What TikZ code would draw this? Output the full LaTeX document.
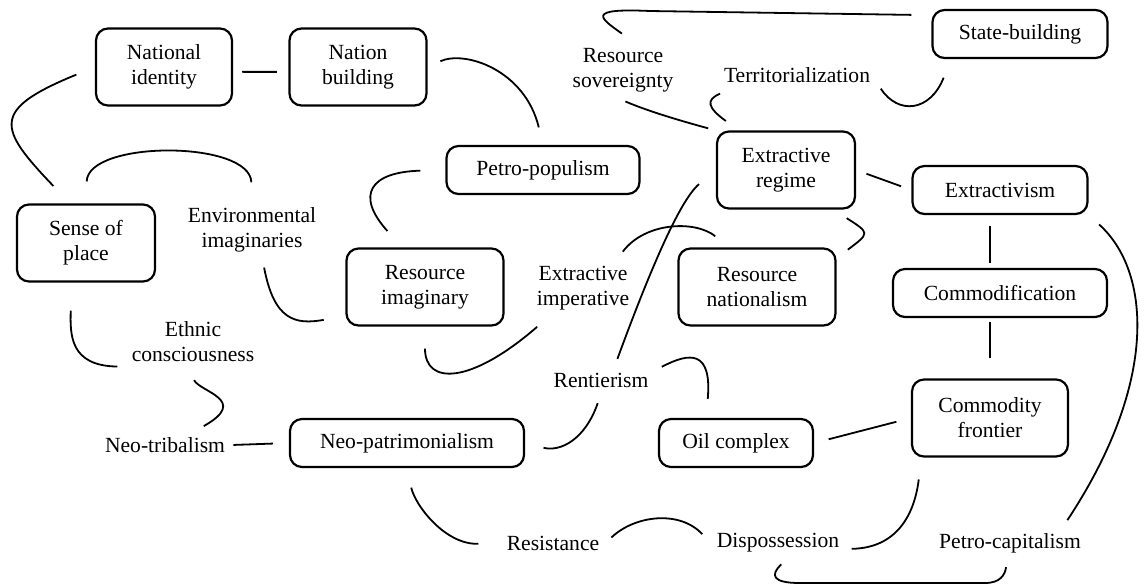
\documentclass[tikz,border=0pt]{standalone}
\usepackage{fontspec}
\setmainfont{Liberation Serif}
\usepackage{tikz}

\begin{document}
\begin{tikzpicture}[
      x=0.5pt, y=-0.5pt,
      mybox/.style={
         rectangle,
         rounded corners=6pt,
         draw=black,
         line width=1.1pt,
         align=center,
         inner sep=0pt,
         minimum height=38.5pt,
         font=\fontsize{10.8}{12.5}\selectfont},
      myflatbox/.style={mybox, minimum height=24pt},
      mylabel/.style={
         align=center,
         inner sep=3pt,
         font=\fontsize{10.8}{12.5}\selectfont},
      myline/.style={line width=0.9pt}
      ]
\useasboundingbox (0,0) rectangle (1144,586);

% boxes
\node[mybox,     minimum width=68pt  ] (natid)      at (164,67)  {National\\identity};
\node[mybox,     minimum width=68.5pt] (natbuild)   at (358,67)  {Nation\\building};
\node[myflatbox, minimum width=87.5pt] (statebuild) at (1020,34) {State-building};
\node[myflatbox, minimum width=96.5pt] (petropop)   at (543,170) {Petro-populism};
\node[mybox,     minimum width=69pt  ] (extreg)     at (786,170) {Extractive\\regime};
\node[myflatbox, minimum width=87.5pt] (extvism)    at (1000,190) {Extractivism};
\node[mybox,     minimum width=69pt  ] (sense)      at (86,243)  {Sense of\\place};
\node[mybox,     minimum width=78.5pt] (resimag)    at (425,287) {Resource\\imaginary};
\node[mybox,     minimum width=78.5pt] (resnat)     at (757,287) {Resource\\nationalism};
\node[myflatbox, minimum width=107pt ] (commod)     at (1000,293) {Commodification};
\node[myflatbox, minimum width=117pt ] (neopat)     at (407,443) {Neo-patrimonialism};
\node[myflatbox, minimum width=77pt  ] (oilcx)      at (736,443) {Oil complex};
\node[mybox,     minimum width=78pt  ] (comfront)   at (990,418) {Commodity\\frontier};

% free labels
\node[mylabel] (ressov)   at (623,70)  {Resource\\sovereignty};
\node[mylabel] (territ)   at (797,75)  {Territorialization};
\node[mylabel] (envimag)  at (252,230) {Environmental\\imaginaries};
\node[mylabel] (extimp)   at (583,288) {Extractive\\imperative};
\node[mylabel] (ethnic)   at (193,342) {Ethnic\\consciousness};
\node[mylabel] (neotrib)  at (165,445) {Neo-tribalism};
\node[mylabel] (rentier)  at (601,380) {Rentierism};
\node[mylabel] (resist)   at (553,543) {Resistance};
\node[mylabel] (dispos)   at (778,543) {Dispossession};
\node[mylabel] (petrocap) at (1010,543) {Petro-capitalism};

% straight links
\foreach \i/\j/\s/\t in {% start/end/gap start/gap end
      natid.-4/natbuild.184/4.5pt/5.75pt,
      neotrib.east/neopat.west/1pt/8pt,
      extreg.east/extvism.west/5.5pt/5.5pt,
      oilcx.east/comfront.west/7.5pt/7.5pt,
      extvism.south -| comfront/commod.north -| comfront/5.5pt/2.5pt,
      commod.south -| comfront/comfront.north/2pt/10pt}
       \draw[myline, shorten <=\s, shorten >=\t] (\i) -- (\j);

% curved links
\draw[myline, shorten <=10pt, shorten >=12pt] (natid.west) .. controls (-10,110) and (-2,128) .. (sense.112);
\draw[myline, shorten <=11pt, shorten >=9.5pt] (sense.north) .. controls (88,140) and (250,140) .. (envimag.north);
\draw[myline, shorten <=7pt, shorten >=9pt] (natbuild.east) .. controls (465,50) and (525,70) .. (petropop.north);
\draw[myline, shorten <=12.5pt, shorten >=11pt] (petropop.west) .. controls (370,172) and (355,195) .. (resimag.120);
\draw[myline, shorten <=4.5pt, shorten >=11pt] (envimag.-70) .. controls (274,320) and (295,325) .. (resimag.200);
\draw[myline, shorten <=14pt, shorten >=4pt] (sense.-110) .. controls (70,335) and (70,366) .. (ethnic.200);
\draw[myline, shorten <=6.5pt, shorten >=5pt] (ethnic.-100) .. controls (200,392) and (250,400) .. (neotrib.25);
\draw[myline, shorten <=11pt, shorten >=8pt] (resimag.south) .. controls (425,385) and (470,385) .. (extimp.220);
\draw[myline, shorten <=5pt, shorten >=9pt] (extimp.40) .. controls (645,222) and (695,220) .. (resnat.125);
\draw[myline, shorten <=4pt, shorten >=11pt] (rentier.45) .. controls (650,270) and (680,200) .. (extreg.west);
\draw[myline, shorten <=4pt, shorten >=4pt] (ressov.-100) .. controls (650,112) and (685,122) .. (extreg.north west);
\draw[myline, shorten <=6pt, shorten >=8pt] (territ.192) .. controls (705,100) and (708,108) .. (extreg.140);
\draw[myline, shorten <=7pt, shorten >=10pt] (ressov.70) .. controls (600,18) and (585,8) .. (650,11) -- (statebuild.168);
\draw[myline, shorten <=4pt, shorten >=10pt] (territ.-5) .. controls (898,115) and (930,112) .. (statebuild.200);
\draw[myline, shorten <=7pt, shorten >=8pt] (resnat.20) .. controls (870,233) and (870,233) .. (extreg.-40);
\draw[myline, shorten <=7pt, shorten >=4pt] (extvism.south east) .. controls (1150,270) and (1160,380) .. (petrocap.17);
\draw[myline, shorten <=11pt, shorten >=3pt] (comfront.210) .. controls (915,510) and (900,548) .. (dispos.-5);
\draw[myline, shorten <=4pt, shorten >=4pt] (dispos.-60) .. controls (770,575) and (772,583) .. (800,583) -- (985,583) .. controls (1000,583) and (1005,575) .. (petrocap.-100);
\draw[myline, shorten <=10pt, shorten >=11pt] (neopat.south) .. controls (415,505) and (445,545) .. (resist.west);
\draw[myline, shorten <=4pt, shorten >=6pt] (resist.east) .. controls (635,515) and (680,510) .. (dispos.west);
\draw[myline, shorten <=9.5pt, shorten >=5pt] (neopat.east) .. controls (560,452) and (585,440) .. (rentier.south);
\draw[myline, shorten <=4pt, shorten >=9.5pt] (rentier.10) .. controls (690,352) and (712,350) .. (oilcx.140);

\end{tikzpicture}
\end{document}
